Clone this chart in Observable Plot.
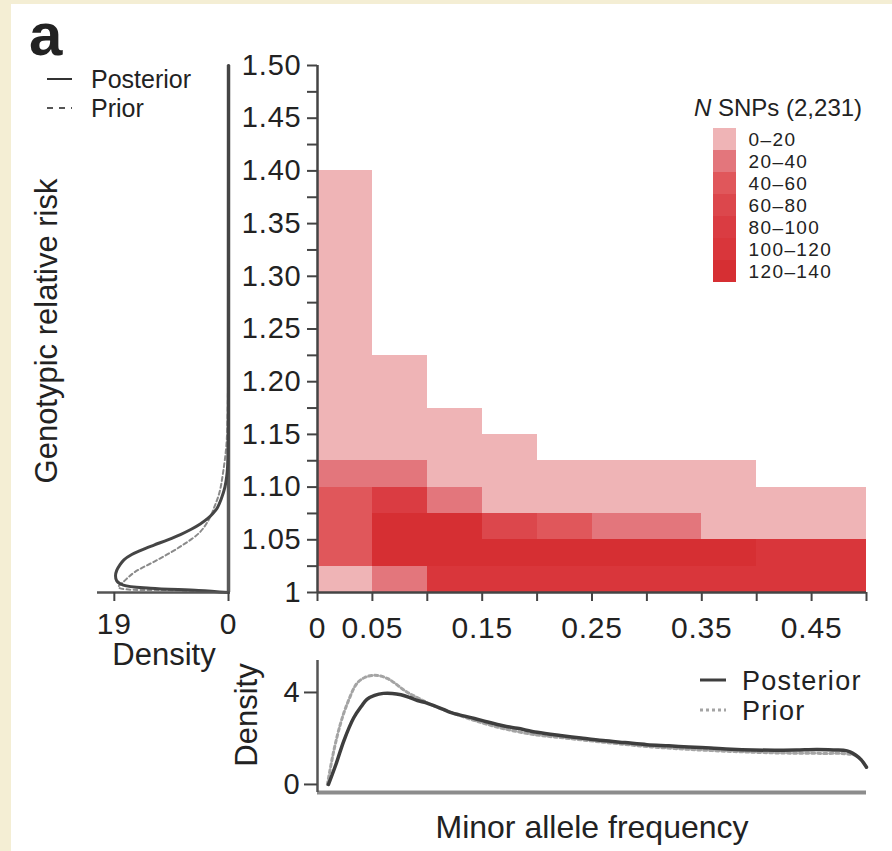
<!DOCTYPE html>
<html>
<head>
<meta charset="utf-8">
<script src="https://cdn.jsdelivr.net/npm/d3@7"></script>
<script src="https://cdn.jsdelivr.net/npm/@observablehq/plot@0.6"></script>
<style>
html, body { margin: 0; padding: 0; background: #f4eed4; }
#root { position: relative; width: 892px; height: 851px; overflow: hidden; background: #f4eed4; font-family: "Liberation Sans", Arial, sans-serif; }
#panel { position: absolute; left: 11px; top: 4px; right: 0; bottom: 0; background: #ffffff; }
#root > svg { position: absolute; left: 0; top: 0; }
</style>
</head>
<body>
<div id="root"><div id="panel"></div></div>
<script>
// ---------- data ----------
const mafEdges = [0, 0.05, 0.10, 0.15, 0.20, 0.25, 0.30, 0.35, 0.40, 0.45, 0.50];
const rrEdges = [1.000, 1.025, 1.050, 1.075, 1.100, 1.125, 1.150, 1.175, 1.200, 1.225,
                 1.250, 1.275, 1.300, 1.325, 1.350, 1.375, 1.400];
const levelLabels = ["0–20", "20–40", "40–60", "60–80", "80–100", "100–120", "120–140"];
const levelColors = ["#efb4b6", "#e3767c", "#e0575b", "#dc474c", "#da3c42", "#d9363b", "#d62f33"];
// level index for each MAF bin, bottom-up per 0.025 relative-risk bin
const cellLevels = [
  [0, 2, 2, 2, 1, 0, 0, 0, 0, 0, 0, 0, 0, 0, 0, 0],
  [1, 6, 6, 4, 1, 0, 0, 0, 0],
  [5, 6, 6, 1, 0, 0, 0],
  [5, 6, 3, 0, 0, 0],
  [5, 6, 2, 0, 0],
  [5, 6, 1, 0, 0],
  [5, 6, 1, 0, 0],
  [5, 6, 0, 0, 0],
  [5, 5, 0, 0],
  [5, 5, 0, 0]
];
const yMajorTicks = [1, 1.05, 1.10, 1.15, 1.20, 1.25, 1.30, 1.35, 1.40, 1.45, 1.50];
const yMinorTicks = [1.025, 1.075, 1.125, 1.175, 1.225, 1.275, 1.325, 1.375, 1.425, 1.475];
const xTicks = [0, 0.05, 0.10, 0.15, 0.20, 0.25, 0.30, 0.35, 0.40, 0.45, 0.50];
const xTickLabels = [0, 0.05, 0.15, 0.25, 0.35, 0.45];

// left marginal density of relative risk
const rrPostLeft = [1.000, 1.002, 1.004, 1.007, 1.011, 1.016, 1.021, 1.026, 1.031, 1.036, 1.040, 1.045,
                    1.050, 1.055, 1.060, 1.065, 1.070, 1.075, 1.080, 1.089, 1.100, 1.110, 1.120, 1.135,
                    1.150, 1.200, 1.300, 1.500];
const densPostLeft = [0, 5, 13, 17.5, 18.6, 18.8, 18.6, 18.1, 17.4, 16.1, 14.6, 12.4,
                      10.1, 8.0, 6.2, 4.7, 3.5, 2.6, 1.9, 1.2, 0.6, 0.3, 0.15, 0.07,
                      0.04, 0.02, 0.01, 0];
const rrPriorLeft = [1.000, 1.002, 1.005, 1.010, 1.019, 1.031, 1.044, 1.057, 1.070, 1.082, 1.095,
                     1.114, 1.140, 1.170, 1.200, 1.300, 1.500];
const densPriorLeft = [0, 8, 18.3, 17.5, 15.7, 11.8, 7.9, 4.8, 3.2, 2.3, 1.5,
                       0.9, 0.35, 0.15, 0.08, 0.02, 0];

// bottom marginal density of minor allele frequency
const mafPost = [0.010, 0.017, 0.024, 0.033, 0.040, 0.045, 0.052, 0.060, 0.068, 0.076, 0.084, 0.091,
                 0.099, 0.106, 0.114, 0.121, 0.133, 0.143, 0.153, 0.163, 0.172, 0.182, 0.200, 0.221,
                 0.240, 0.260, 0.280, 0.300, 0.320, 0.338, 0.358, 0.377, 0.397, 0.416, 0.436, 0.455,
                 0.470, 0.479, 0.485, 0.490, 0.495, 0.500];
const densPost = [0, 0.9, 1.9, 2.9, 3.4, 3.7, 3.87, 3.96, 3.96, 3.9, 3.78, 3.65,
                  3.55, 3.43, 3.28, 3.13, 2.98, 2.87, 2.74, 2.62, 2.52, 2.44, 2.27, 2.13,
                  2.02, 1.91, 1.82, 1.73, 1.68, 1.63, 1.58, 1.53, 1.50, 1.49, 1.50, 1.52,
                  1.50, 1.49, 1.42, 1.28, 1.08, 0.75];
const mafPrior = [0.009, 0.015, 0.021, 0.027, 0.036, 0.043, 0.050, 0.057, 0.064, 0.070, 0.076, 0.082,
                  0.090, 0.098, 0.106, 0.120, 0.143, 0.170, 0.200, 0.221, 0.260, 0.300, 0.340, 0.380,
                  0.420, 0.460, 0.480, 0.490, 0.495, 0.500];
const densPrior = [0, 1.5, 2.65, 3.5, 4.4, 4.65, 4.74, 4.72, 4.6, 4.42, 4.2, 4.0,
                   3.8, 3.6, 3.42, 3.16, 2.78, 2.42, 2.15, 2.04, 1.84, 1.65, 1.52, 1.43,
                   1.37, 1.35, 1.34, 1.26, 1.08, 0.75];

// ---------- build tables ----------
const cells = [];
cellLevels.forEach((col, i) => {
  col.forEach((lev, j) => {
    cells.push({x1: mafEdges[i], x2: mafEdges[i + 1], y1: rrEdges[j], y2: rrEdges[j + 1], level: levelLabels[lev]});
  });
});
const postLeft = rrPostLeft.map((r, i) => ({rr: r, d: densPostLeft[i]}));
const priorLeft = rrPriorLeft.map((r, i) => ({rr: r, d: densPriorLeft[i]}));
const postBottom = mafPost.map((m, i) => ({maf: m, d: densPost[i]}));
const priorBottom = mafPrior.map((m, i) => ({maf: m, d: densPrior[i]}));

const FONT = '"Liberation Sans", Arial, Helvetica, sans-serif';
const baseStyle = {background: "transparent", fontFamily: FONT, fontSize: "29px", color: "#222", overflow: "visible", letterSpacing: "0.8px"};
const root = document.getElementById("root");

// ---------- main heatmap ----------
const main = Plot.plot({
  width: 892, height: 851,
  marginLeft: 317, marginRight: 26, marginTop: 65, marginBottom: 259,
  style: baseStyle,
  x: {domain: [0, 0.5]},
  y: {domain: [1, 1.5]},
  color: {type: "ordinal", domain: levelLabels, range: levelColors},
  marks: [
    Plot.rect(cells, {x1: "x1", x2: "x2", y1: "y1", y2: "y2", fill: "level", shapeRendering: "crispEdges"}),
    Plot.axisY(yMinorTicks, {tickSize: 10, tickFormat: () => "", stroke: "#444", strokeWidth: 2, label: null}),
    Plot.axisY(yMajorTicks, {tickSize: 10, tickPadding: 6, stroke: "#444", strokeWidth: 2, color: "#222",
      tickFormat: d => d === 1 ? "1" : d.toFixed(2), label: null}),
    Plot.axisX(xTicks, {tickSize: 9, tickPadding: 15, stroke: "#444", strokeWidth: 2, color: "#222", fontSize: 30,
      tickFormat: d => xTickLabels.some(v => Math.abs(v - d) < 1e-9) ? (d === 0 ? "0" : String(d)) : "", label: null}),
    Plot.ruleX([0], {stroke: "#444", strokeWidth: 2.5}),
    Plot.ruleY([1], {stroke: "#444", strokeWidth: 2.5})
  ]
});
root.appendChild(main);

// ---------- left density ----------
const left = Plot.plot({
  width: 892, height: 851,
  marginLeft: 97, marginRight: 662, marginTop: 65, marginBottom: 259,
  style: baseStyle,
  x: {domain: [21.8, -0.33]},
  y: {domain: [1, 1.5], axis: null},
  marks: [
    Plot.ruleX([0], {stroke: "#5a5a5a", strokeWidth: 3.5}),
    Plot.line(priorLeft, {x: "d", y: "rr", stroke: "#8a8a8a", strokeWidth: 2, strokeDasharray: "4,3", curve: "catmull-rom"}),
    Plot.line(postLeft, {x: "d", y: "rr", stroke: "#454545", strokeWidth: 3, curve: "catmull-rom"}),
    Plot.ruleY([1], {stroke: "#555", strokeWidth: 2.5}),
    Plot.axisX([19, 0], {tickSize: 9, tickPadding: 11, stroke: "#444", strokeWidth: 2, color: "#222", fontSize: 30, label: null})
  ]
});
root.appendChild(left);

// ---------- bottom density ----------
const bottom = Plot.plot({
  width: 892, height: 851,
  marginLeft: 317, marginRight: 26, marginTop: 660, marginBottom: 59,
  style: baseStyle,
  x: {domain: [0, 0.5], axis: null},
  y: {domain: [-0.35, 5.39]},
  marks: [
    Plot.ruleY([-0.35], {stroke: "#8c8c8c", strokeWidth: 4}),
    Plot.ruleX([0], {stroke: "#555", strokeWidth: 2.5}),
    Plot.line(priorBottom, {x: "maf", y: "d", stroke: "#a4a4a4", strokeWidth: 3, strokeDasharray: "3,3", curve: "catmull-rom"}),
    Plot.line(postBottom, {x: "maf", y: "d", stroke: "#3e3e3e", strokeWidth: 3.5, curve: "catmull-rom"}),
    Plot.axisY([0, 4], {tickSize: 13, tickPadding: 4, stroke: "#444", strokeWidth: 2, color: "#222", fontSize: 29, label: null})
  ]
});
root.appendChild(bottom);

// ---------- colour legend ----------
const legend = Plot.plot({
  width: 892, height: 851,
  marginLeft: 713, marginRight: 156, marginTop: 127, marginBottom: 568,
  style: Object.assign({}, baseStyle, {letterSpacing: "1.4px"}),
  x: {domain: [0, 1], axis: null},
  y: {domain: levelLabels, axis: null, padding: 0},
  color: {type: "ordinal", domain: levelLabels, range: levelColors},
  marks: [
    Plot.barX(levelLabels, {x1: 0, x2: 1, y: d => d, fill: d => d, shapeRendering: "crispEdges"}),
    Plot.text(levelLabels, {x: 1, y: d => d, text: d => d, textAnchor: "start", dx: 12, fontSize: 19, fill: "#222"})
  ]
});
root.appendChild(legend);

// ---------- text annotations ----------
const svg = d3.create("svg").attr("width", 892).attr("height", 851)
  .style("font-family", FONT).style("fill", "#222");
svg.append("text").attr("x", 29).attr("y", 55).attr("font-size", 60).attr("font-weight", "bold").text("a");
// top-left legend
svg.append("line").attr("x1", 47).attr("x2", 72).attr("y1", 79).attr("y2", 79).attr("stroke", "#333").attr("stroke-width", 2);
svg.append("line").attr("x1", 47).attr("x2", 72).attr("y1", 108).attr("y2", 108).attr("stroke", "#555").attr("stroke-width", 2).attr("stroke-dasharray", "6,6");
svg.append("text").attr("x", 91).attr("y", 88).attr("font-size", 25).text("Posterior");
svg.append("text").attr("x", 91).attr("y", 117).attr("font-size", 25).text("Prior");
// axis titles
svg.append("text").attr("transform", "translate(57,331) rotate(-90)").attr("text-anchor", "middle").attr("font-size", 31).text("Genotypic relative risk");
svg.append("text").attr("x", 164).attr("y", 665).attr("text-anchor", "middle").attr("font-size", 31).text("Density");
svg.append("text").attr("transform", "translate(257,715) rotate(-90)").attr("text-anchor", "middle").attr("font-size", 31).text("Density");
svg.append("text").attr("x", 592).attr("y", 838).attr("text-anchor", "middle").attr("font-size", 32).text("Minor allele frequency");
// bottom legend
svg.append("line").attr("x1", 700).attr("x2", 726).attr("y1", 680).attr("y2", 680).attr("stroke", "#3e3e3e").attr("stroke-width", 3);
svg.append("line").attr("x1", 700).attr("x2", 726).attr("y1", 710).attr("y2", 710).attr("stroke", "#a4a4a4").attr("stroke-width", 3).attr("stroke-dasharray", "3,3");
svg.append("text").attr("x", 742).attr("y", 690).attr("font-size", 27).attr("letter-spacing", "1.3px").text("Posterior");
svg.append("text").attr("x", 742).attr("y", 720).attr("font-size", 27).attr("letter-spacing", "1.3px").text("Prior");
// colour legend title
const t = svg.append("text").attr("x", 694).attr("y", 116).attr("font-size", 24);
t.append("tspan").attr("font-style", "italic").text("N");
t.append("tspan").text(" SNPs (2,231)");
root.appendChild(svg.node());
</script>
</body>
</html>
